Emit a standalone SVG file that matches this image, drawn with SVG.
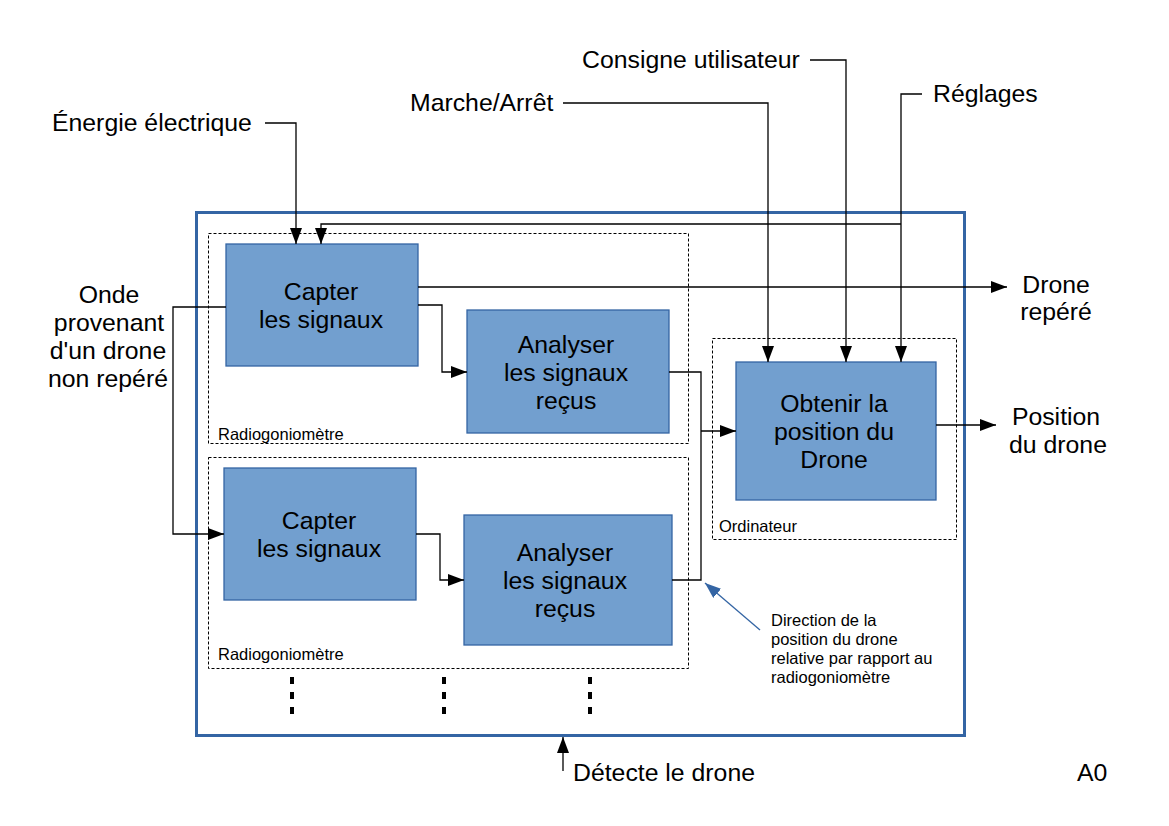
<svg xmlns="http://www.w3.org/2000/svg" width="1169" height="826" viewBox="0 0 1169 826">
<style>
text{font-family:"Liberation Sans",Arial,sans-serif;fill:#000}
.big{font-size:24.8px}
.mid{font-size:24.8px;text-anchor:middle}
.sm{font-size:16.5px}
.box{fill:#729fcf;stroke:#3465a4;stroke-width:1.3}
.grp{fill:none;stroke:#000;stroke-width:1;stroke-dasharray:3,2}
.c{fill:none;stroke:#000;stroke-width:1.3}
</style>
<defs>
<marker id="ah" viewBox="0 0 16 12" refX="16" refY="6" markerWidth="16" markerHeight="12" markerUnits="userSpaceOnUse" orient="auto">
<path d="M0,0 L16,6 L0,12 Z" fill="#000"/>
</marker>
<marker id="bh" viewBox="0 0 16 12" refX="16" refY="6" markerWidth="16" markerHeight="12" markerUnits="userSpaceOnUse" orient="auto">
<path d="M0,0 L16,6 L0,12 Z" fill="#3465a4"/>
</marker>
</defs>
<rect width="1169" height="826" fill="#fff"/>
<rect id="frame" x="196.5" y="212.5" width="768" height="523" fill="none" stroke="#3465a4" stroke-width="3"/>
<g id="radio1"><rect class="grp" x="208.5" y="233.5" width="480" height="210"/><text class="sm" x="218" y="440">Radiogoniomètre</text></g>
<g id="radio2"><rect class="grp" x="208.5" y="457.5" width="480" height="211"/><text class="sm" x="218" y="660">Radiogoniomètre</text></g>
<g id="ordi"><rect class="grp" x="712.5" y="338.5" width="244" height="201"/><text class="sm" x="719" y="532">Ordinateur</text></g>
<g id="capter1"><rect class="box" x="226" y="244" width="192" height="122"/><text class="mid" x="321" y="300">Capter</text><text class="mid" x="321" y="328">les signaux</text></g>
<g id="analyser1"><rect class="box" x="467" y="310" width="202" height="123"/><text class="mid" x="566" y="353">Analyser</text><text class="mid" x="566" y="381">les signaux</text><text class="mid" x="566" y="409">reçus</text></g>
<g id="capter2"><rect class="box" x="224" y="468" width="192" height="132"/><text class="mid" x="319" y="529">Capter</text><text class="mid" x="319" y="557">les signaux</text></g>
<g id="analyser2"><rect class="box" x="464" y="515" width="208" height="130"/><text class="mid" x="565" y="561">Analyser</text><text class="mid" x="565" y="589">les signaux</text><text class="mid" x="565" y="617">reçus</text></g>
<g id="obtenir"><rect class="box" x="736" y="362" width="200" height="138"/><text class="mid" x="834" y="412">Obtenir la</text><text class="mid" x="834" y="440">position du</text><text class="mid" x="834" y="468">Drone</text></g>
<g id="connectors">
<path class="c" d="M265,123 H296 V244" marker-end="url(#ah)"/>
<path class="c" d="M922,94 H901 V362" marker-end="url(#ah)"/>
<path class="c" d="M901,224 H321 V244" marker-end="url(#ah)"/>
<path class="c" d="M810,60 H846 V362" marker-end="url(#ah)"/>
<path class="c" d="M563,103 H768 V362" marker-end="url(#ah)"/>
<path class="c" d="M418,287 H1007" marker-end="url(#ah)"/>
<path class="c" d="M418,305 H442 V372 H467" marker-end="url(#ah)"/>
<path class="c" d="M669,372 H701 V580 H672"/>
<path class="c" d="M701,431 H736" marker-end="url(#ah)"/>
<path class="c" d="M416,534 H440 V580 H464" marker-end="url(#ah)"/>
<path class="c" d="M226,307 H173 V534 H224" marker-end="url(#ah)"/>
<path class="c" d="M936,425 H996" marker-end="url(#ah)"/>
<path class="c" d="M563,771 V737" marker-end="url(#ah)"/>
<path fill="none" stroke="#3465a4" stroke-width="1.3" d="M760,630 L705,583" marker-end="url(#bh)"/>
<g stroke="#000" stroke-width="4" stroke-dasharray="7,8"><path d="M292,677 V716"/><path d="M444,677 V716"/><path d="M590,677 V716"/></g>
</g>
<g id="labels">
<text class="big" x="52" y="131">Énergie électrique</text>
<text class="big" x="410" y="111">Marche/Arrêt</text>
<text class="big" x="582" y="68">Consigne utilisateur</text>
<text class="big" x="933" y="102">Réglages</text>
<text class="mid" x="109" y="303">Onde</text>
<text class="mid" x="109" y="331">provenant</text>
<text class="mid" x="108" y="359">d'un drone</text>
<text class="mid" x="108" y="387">non repéré</text>
<text class="mid" x="1056" y="293">Drone</text>
<text class="mid" x="1056" y="320">repéré</text>
<text class="mid" x="1056" y="425">Position</text>
<text class="mid" x="1058" y="453">du drone</text>
<text class="big" x="573" y="781">Détecte le drone</text>
<text class="big" x="1077" y="781">A0</text>
<text class="sm" x="771" y="626">Direction de la</text>
<text class="sm" x="771" y="645">position du drone</text>
<text class="sm" x="771" y="664">relative par rapport au</text>
<text class="sm" x="771" y="683">radiogoniomètre</text>
</g>
</svg>
